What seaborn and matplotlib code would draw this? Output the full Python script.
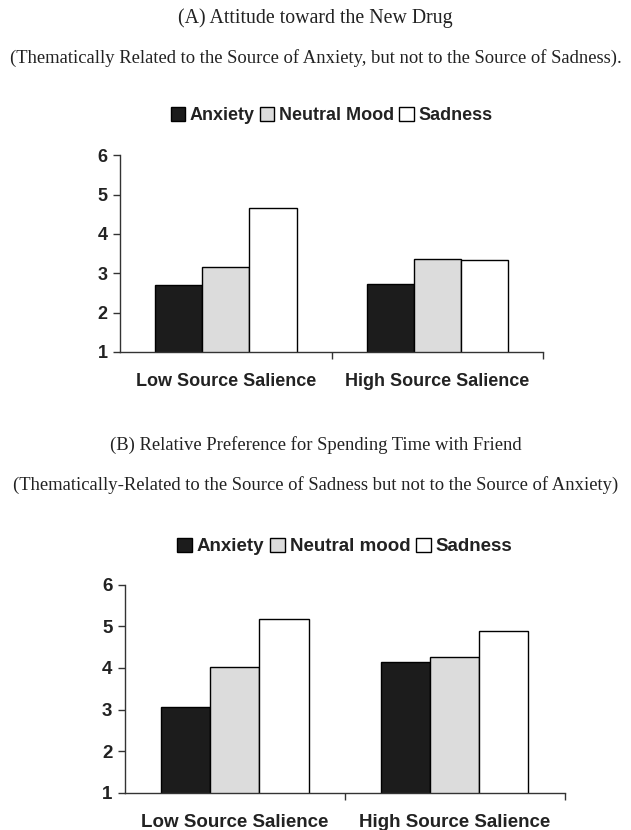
import matplotlib
matplotlib.use("Agg")
import matplotlib.pyplot as plt
import numpy as np
import pandas as pd
import seaborn as sns

# values
salience = ['Low Source Salience', 'High Source Salience']
moods_a = ['Anxiety', 'Neutral Mood', 'Sadness']
moods_b = ['Anxiety', 'Neutral mood', 'Sadness']
drug_anxiety = [2.70, 2.73]
drug_neutral = [3.16, 3.36]
drug_sadness = [4.65, 3.34]
friend_anxiety = [3.07, 4.15]
friend_neutral = [4.03, 4.27]
friend_sadness = [5.18, 4.89]
y_ticks = [1, 2, 3, 4, 5, 6]

bar_colors = ['#1c1c1c', '#dcdcdc', '#ffffff']

sns.set_style('white')
plt.rcParams['font.family'] = ['Liberation Sans', 'DejaVu Sans']


def make_frame(moods, series):
    rows = []
    for mood, vals in zip(moods, series):
        for s, v in zip(salience, vals):
            rows.append({'salience': s, 'mood': mood, 'value': v})
    return pd.DataFrame(rows)


def draw_panel(ax, df, moods, size, leg_y, xpad):
    sns.barplot(data=df, x='salience', y='value', hue='mood', hue_order=moods,
                palette=dict(zip(moods, bar_colors)), edgecolor='black',
                linewidth=1.0, width=0.67, gap=0, ax=ax, legend=True)
    ax.set_ylim(1, 6)
    ax.set_xlim(-0.5, 1.5)
    ax.set_yticks(y_ticks)
    ax.set_xlabel('')
    ax.set_ylabel('')
    sns.despine(ax=ax)
    for sp in ['left', 'bottom']:
        ax.spines[sp].set_color('#333333')
        ax.spines[sp].set_linewidth(1.0)
    ax.tick_params(axis='y', direction='out', length=5, width=1, left=True,
                   labelsize=size, pad=4, color='#333333')
    ax.tick_params(axis='x', which='major', length=0, labelsize=size, pad=xpad)
    ax.set_xticks([0.5, 1.5], minor=True)
    ax.tick_params(axis='x', which='minor', direction='out', length=5, width=1,
                   bottom=True, color='#333333')
    for lab in ax.get_xticklabels() + ax.get_yticklabels():
        lab.set_fontweight('bold')
        lab.set_color('#222222')
    leg = ax.legend(loc='center', bbox_to_anchor=(0.5, leg_y), ncol=3,
                    frameon=False, handlelength=0.8, handleheight=0.8,
                    handletextpad=0.25, columnspacing=0.3, borderaxespad=0,
                    prop={'weight': 'bold', 'size': size})
    for t in leg.get_texts():
        t.set_color('#222222')


fig = plt.figure(figsize=(6.31, 8.30), dpi=100)

ax_a = fig.add_axes([0.190, 0.576, 0.671, 0.237])
draw_panel(ax_a, make_frame(moods_a, [drug_anxiety, drug_neutral, drug_sadness]), moods_a,
           13, 1.203, 15)

ax_b = fig.add_axes([0.198, 0.0446, 0.697, 0.251])
draw_panel(ax_b, make_frame(moods_b, [friend_anxiety, friend_neutral, friend_sadness]), moods_b,
           13.5, 1.183, 15)

serif = ['Liberation Serif', 'DejaVu Serif']
fig.text(0.5, 1 - 18 / 830, '(A) Attitude toward the New Drug', ha='center', va='center',
         family=serif, fontsize=14.3, color='#222222')
fig.text(0.5, 1 - 58 / 830,
         '(Thematically Related to the Source of Anxiety, but not to the Source of Sadness).',
         ha='center', va='center', family=serif, fontsize=13.4, color='#222222')
fig.text(0.5, 1 - 445 / 830, '(B) Relative Preference for Spending Time with Friend',
         ha='center', va='center', family=serif, fontsize=13.4, color='#222222')
fig.text(0.5, 1 - 485 / 830,
         '(Thematically-Related to the Source of Sadness but not to the Source of Anxiety)',
         ha='center', va='center', family=serif, fontsize=13.4, color='#222222')

fig.savefig('out.png', dpi=100, facecolor='white')
